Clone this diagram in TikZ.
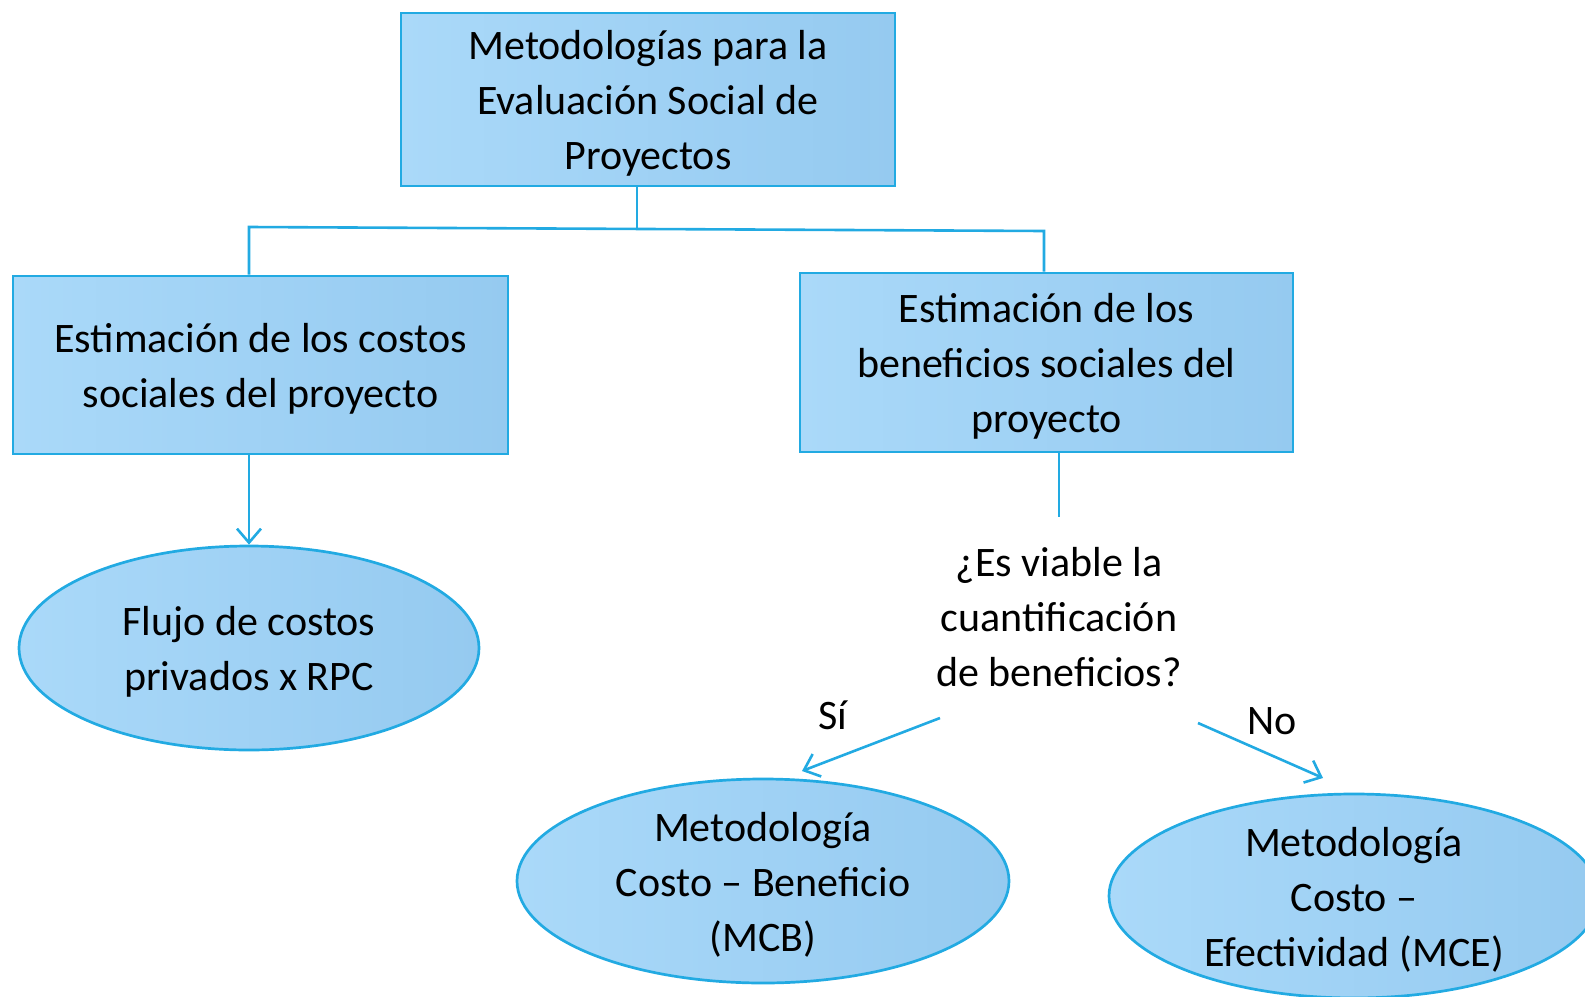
\documentclass[tikz,border=0pt]{standalone}
\usepackage{fontspec}
\setmainfont{Carlito}
\usetikzlibrary{shapes.geometric,arrows.meta}
\definecolor{edge}{HTML}{22AAE2}
\definecolor{fillA}{HTML}{AAD9F9}
\definecolor{fillB}{HTML}{95CAF0}
\newcommand{\ls}{\rule{0pt}{36pt}}
\tikzset{
  boxbase/.style={draw=edge, line width=2.7pt, left color=fillA, right color=fillB,
    align=center, inner sep=0pt, font=\fontsize{42}{55}\selectfont},
  rbox/.style={boxbase, rectangle},
  ebox/.style={boxbase, ellipse, inner ysep=-14pt},
  conn/.style={draw=edge, line width=2.6pt},
  arr/.style={conn, -{Straight Barb[length=14pt,width=24pt,line width=2.6pt]}},
  plain/.style={align=center, inner sep=0pt, font=\fontsize{42}{55}\selectfont},
}
\begin{document}
\begin{tikzpicture}[x=1pt,y=-1pt]
\useasboundingbox (0,0) rectangle (1585,996);
\clip (0,0) rectangle (1585,996);
\node[rbox, minimum width=494pt, minimum height=173pt] (top) at (648,99.5)
  {\ls Metodologías para la\\Evaluación Social de\\Proyectos};
\node[rbox, minimum width=495pt, minimum height=178pt] (lb) at (260.5,365)
  {\ls Estimación de los costos\\sociales del proyecto};
\node[rbox, minimum width=493pt, minimum height=179pt] (rb) at (1046.5,362.5)
  {\ls Estimación de los\\beneficios sociales del\\proyecto};
\node[ebox, minimum width=460pt, minimum height=204pt] (e1) at (249,648)
  {\ls Flujo de costos\\privados x RPC};
\node[plain] (q) at (1059,614) {\ls ¿Es viable la\\cuantificación\\de beneficios?};
\node[ebox, minimum width=492pt, minimum height=204pt] (mcb) at (763,881)
  {\ls Metodología\\Costo -- Beneficio\\(MCB)};
\node[ebox, minimum width=490pt, minimum height=204pt] (mce) at (1354,896)
  {\ls Metodología\\Costo --\\Efectividad (MCE)};
\node[plain] (si) at (833,715) {Sí};
\node[plain] (no) at (1272,721) {No};
\coordinate (j) at (637,229);
\coordinate (jl) at (249,227);
\coordinate (jr) at (1044,231);
\coordinate (qtop) at (1059,517);
\coordinate (siA) at (940,718);
\coordinate (siB) at (802,771);
\coordinate (noA) at (1198,723);
\coordinate (noB) at (1323,778);
\draw[conn] (top.south -| j) -- (j);
\draw[conn] (jl |- lb.north) -- (jl) -- (jr) -- (jr |- rb.north);
\draw[arr] (lb.south -| e1.north) -- (e1.north);
\draw[conn] (rb.south -| qtop) -- (qtop);
\draw[arr] (siA) -- (siB);
\draw[arr] (noA) -- (noB);
\end{tikzpicture}
\end{document}
